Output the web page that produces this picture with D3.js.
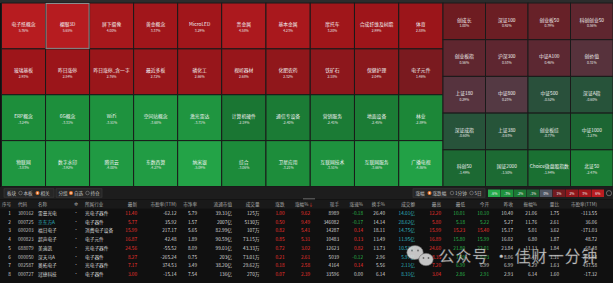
<!DOCTYPE html>
<html>
<head>
<meta charset="utf-8">
<script src="https://cdn.jsdelivr.net/npm/d3@7"></script>
<style>
html, body { margin: 0; padding: 0; background: #101010; overflow: hidden; }
svg { display: block; font-family: "Noto Sans CJK SC", "Noto Sans", sans-serif; }
</style>
</head>
<body>
<svg width="613" height="283"></svg>
<script>
// 概念板块
var conceptNames = ["电子纸概念", "裸眼3D", "屏下摄像", "黄金概念", "MicroLED",
  "玻璃基板", "昨日涨停", "昨日涨停_含一字", "最近多板", "磷化工",
  "ERP概念", "6G概念", "WiFi", "空间站概念", "激光雷达",
  "物联网", "数字水印", "腾讯云", "东数西算", "纳米银"];
var conceptPct = [5.76, 5.65, 4.00, 3.37, 3.29,
  2.93, 2.84, 2.76, 2.72, 2.66,
  -3.24, -3.31, -3.51, -3.68, -3.71,
  -3.83, -3.92, -4.00, -4.27, -5.09];

// 行业板块
var industryNames = ["贵金属", "基本金属", "摩托车", "合成纤维及树脂", "体育",
  "视听器材", "化肥农药", "铁矿石", "保健护理", "电子元件",
  "计算机硬件", "通信专设备", "营销服务", "地面设备", "林业",
  "综合", "卫星应用", "互联网技术", "互联网服务", "广播电视"];
var industryPct = [4.58, 4.23, 3.20, 2.99, 2.88,
  2.68, 2.32, 2.18, 2.04, 1.46,
  -2.19, -2.40, -2.41, -2.45, -2.89,
  -3.06, -3.21, -3.51, -3.66, -4.86];

// 指数
var indexNames = ["创成长", "深证100", "创业板50", "科创创业50",
  "创业板指", "沪深300", "中证A100", "创价值",
  "上证180", "中证800", "中证500", "深证A指",
  "深证成指", "上证380", "创业板综", "中证1000",
  "科创50", "国证2000", "Choice微盘股指数", "北证50"];
var indexPct = [1.00, 0.92, 0.79, 0.56,
  0.56, 0.53, 0.46, 0.31,
  0.29, 0.23, -0.52, -0.60,
  -0.60, -0.63, -0.77, -1.27,
  -1.49, -1.50, -1.94, -2.47];

var legendTicks = [-6, -3, -2, -1, 0, 1, 2, 3, 6];

// 个股表
var codes = ["300162", "000725", "600203", "000823", "688079", "000050", "002587", "000727"];
var stockNames = ["雷曼光电", "京东方A", "福日电子", "超声电子", "美迪凯", "深天马A", "奥拓电子", "冠捷科技"];
var industries = ["光电子器件", "电子器件", "消费电子设备", "电子元件", "光电子器件", "电子器件", "光电子器件", "电子器件"];
var latest = [11.40, 5.77, 15.99, 16.87, 24.56, 8.27, 7.17, 3.00];
var peTTM = [-62.12, 35.92, 217.17, 42.48, -55.52, -265.24, 374.53, -15.14];
var pb = [5.79, 1.57, 5.65, 1.89, 8.09, 0.75, 3.49, 7.54];
var floatCap = ["39.31亿", "2007亿", "82.99亿", "90.59亿", "99.01亿", "203亿", "38.20亿", "136亿"];
var volume = ["125万", "5130万", "107万", "73.15万", "43.33万", "73.01万", "29.62万", "270万"];
var change = [1.00, 0.50, 0.82, 0.85, 0.72, 0.21, 0.18, 0.07];
var changePct = [9.62, 9.49, 5.41, 5.31, 3.02, 2.61, 2.58, 2.39];
var lastVol = [8989, 346082, 14287, 10483, 12623, 5039, 4164, 33596];
var speed = [-0.18, -0.17, 0.14, 0.13, 0.82, -0.12, 0.14, 0.00];
var turnover = [26.40, 14.14, 18.11, 13.49, 13.73, 2.96, 5.56, 6.14];
var amount = ["14.01亿", "28.62亿", "14.75亿", "11.95亿", "10.53亿", "5.97亿", "2.11亿", "8.31亿"];
var high = [12.20, 5.80, 15.99, 16.89, 24.60, 8.35, 7.20, 3.04];
var low = [10.01, 5.18, 15.23, 15.80, 21.80, 7.99, 6.90, 2.86];
var open = [10.10, 5.22, 15.40, 15.99, 22.01, 8.03, 6.99, 2.91];
var prevClose = [10.40, 5.27, 15.17, 16.02, 23.84, 8.06, 6.99, 2.93];
var amplitude = [21.06, 11.76, 5.01, 6.80, 11.13, 4.47, 4.29, 6.14];
var volRatio = [1.75, 2.61, 3.62, 1.87, 1.84, 1.31, 1.63, 1.60];
var peTTM2 = [-113.55, 36.06, -171.03, 48.72, -68.48, -255.44, 437.58, -17.32];

var svg = d3.select("svg");
var width = +svg.attr("width");

var color = d3.scaleLinear()
    .domain([-6, -4, -3, -2, -1, -0.4, 0, 0.4, 1, 2, 3, 6])
    .range(["#25ab4b", "#209a43", "#1c8a39", "#1a7132", "#1d6233", "#2c4b3d", "#4b4f58",
            "#5a2934", "#6e1c21", "#89181c", "#9e151a", "#b91d21"])
    .clamp(true);

var RED = "#f2322f", GREEN = "#2bbb4d", WHITE = "#d6d6d6", TEAL = "#2fb8c0";

svg.append("rect").attr("width", width).attr("height", 283).attr("fill", "#101010");
svg.append("rect").attr("width", width).attr("height", 3).attr("fill", "#2c2c2c");

// ---- heat map blocks ----
function drawBlock(names, values, x0, x1, y0, y1, ncols, selected) {
  var nrows = Math.ceil(names.length / ncols);
  var x = d3.scaleBand().domain(d3.range(ncols)).range([x0, x1]);
  var y = d3.scaleBand().domain(d3.range(nrows)).range([y0, y1]);

  var cell = svg.append("g").selectAll("g")
    .data(names.map(function(n, i) { return {name: n, v: values[i], i: i}; }))
    .enter().append("g")
      .attr("transform", function(d) {
        return "translate(" + x(d.i % ncols) + "," + y(Math.floor(d.i / ncols)) + ")";
      });

  cell.append("rect")
      .attr("width", x.bandwidth())
      .attr("height", y.bandwidth())
      .attr("fill", function(d) { return color(d.v); })
      .attr("stroke", "#1a1a1a")
      .attr("stroke-width", 1);

  cell.append("text")
      .attr("x", x.bandwidth() / 2)
      .attr("y", y.bandwidth() / 2 - 2.2)
      .attr("text-anchor", "middle")
      .attr("dominant-baseline", "central")
      .attr("font-size", 4.8)
      .attr("fill", "#f2f2f2")
      .text(function(d) { return d.name; });

  cell.append("text")
      .attr("x", x.bandwidth() / 2)
      .attr("y", y.bandwidth() / 2 + 4.4)
      .attr("text-anchor", "middle")
      .attr("dominant-baseline", "central")
      .attr("font-size", 3.4)
      .attr("fill", "#e6e6e6")
      .text(function(d) { return d.v.toFixed(2) + "%"; });

  if (selected != null) {
    svg.append("rect")
        .attr("x", x(selected % ncols) + 0.5)
        .attr("y", y(Math.floor(selected / ncols)) + 0.5)
        .attr("width", x.bandwidth() - 1)
        .attr("height", y.bandwidth() - 1)
        .attr("fill", "none")
        .attr("stroke", "#8c8c8c")
        .attr("stroke-width", 1);
  }
}

drawBlock(conceptNames, conceptPct, 1.5, 221.7, 3, 186.5, 5, 1);
drawBlock(industryNames, industryPct, 221.7, 443, 3, 186.5, 5, null);
drawBlock(indexNames, indexPct, 443, 613, 3, 186.5, 4, null);

// ---- toolbar ----
svg.append("rect").attr("x", 0).attr("y", 187).attr("width", width).attr("height", 12).attr("fill", "#1d1d1d");

function radio(g, cx, cy, on) {
  if (on) {
    g.append("circle").attr("cx", cx).attr("cy", cy).attr("r", 2).attr("fill", "#e9772c");
    g.append("circle").attr("cx", cx).attr("cy", cy).attr("r", 0.8).attr("fill", "#fff");
  } else {
    g.append("circle").attr("cx", cx).attr("cy", cy).attr("r", 1.8)
        .attr("fill", "none").attr("stroke", "#9a9a9a").attr("stroke-width", 0.5);
  }
}

function toolGroup(x0, w, items) {
  var g = svg.append("g");
  g.append("rect").attr("x", x0).attr("y", 188.8).attr("width", w).attr("height", 8.4)
      .attr("fill", "#262626").attr("stroke", "#3d3d3d").attr("stroke-width", 0.6);
  items.forEach(function(it) {
    if (it.r != null) radio(g, it.x, 193, it.r);
    else g.append("text").attr("x", it.x).attr("y", 193).attr("dominant-baseline", "central")
        .attr("font-size", 4.6).attr("fill", "#c4c4c4").text(it.t);
  });
}

toolGroup(4, 50, [{x: 7, t: "板块"}, {r: false, x: 20.5}, {x: 23.5, t: "本板"}, {r: true, x: 37.5}, {x: 40.5, t: "相关"}]);
toolGroup(56, 46, [{x: 58.5, t: "分组"}, {r: true, x: 71}, {x: 74, t: "自选"}, {r: false, x: 87.5}, {x: 90.5, t: "持仓"}]);
toolGroup(413, 72, [{x: 415.5, t: "涨幅"}, {r: true, x: 429.5}, {x: 432.5, t: "涨跌幅"}, {r: false, x: 452}, {x: 455, t: "1分钟"}, {r: false, x: 471.5}, {x: 474.5, t: "5日"}]);

var lx = d3.scaleBand().domain(legendTicks).range([488, 604]).paddingInner(0.04);
var leg = svg.append("g").selectAll("g").data(legendTicks).enter().append("g");
leg.append("rect")
    .attr("x", function(d) { return lx(d); })
    .attr("y", 189.5)
    .attr("width", lx.bandwidth())
    .attr("height", 7.5)
    .attr("fill", function(d) { return d === 0 ? "#4f5663" : color(d * 1.15); });
leg.append("text")
    .attr("x", function(d) { return lx(d) + lx.bandwidth() / 2; })
    .attr("y", 193.3)
    .attr("text-anchor", "middle")
    .attr("dominant-baseline", "central")
    .attr("font-size", 3.4)
    .attr("fill", "#eee")
    .text(function(d) { return d + "%"; });

svg.append("circle").attr("cx", 609).attr("cy", 193.2).attr("r", 2.6)
    .attr("fill", "none").attr("stroke", "#8a8a8a").attr("stroke-width", 0.7);
svg.append("rect").attr("x", 303).attr("y", 198.2).attr("width", 12).attr("height", 1.4).attr("fill", "#5f5f5f");

// ---- table ----
svg.append("rect").attr("x", 0).attr("y", 199.6).attr("width", width).attr("height", 9).attr("fill", "#191919");

function sign(v) { return v > 0 ? RED : (v < 0 ? GREEN : WHITE); }
function vsPrev(arr) { return function(i) { return sign(arr[i] - prevClose[i]); }; }
function plain() { return WHITE; }

var columns = [
  {title: "序号", x: 9.5, anchor: "middle", hx: 2, ha: "start", get: function(i) { return i + 1; }, c: plain},
  {title: "代码", x: 18, anchor: "start", get: function(i) { return codes[i]; }, c: function() { return "#c2c2c2"; }},
  {title: "名称", x: 38, anchor: "start", get: function(i) { return stockNames[i]; }, c: function(i) { return i === 1 ? TEAL : WHITE; }},
  {title: "✲", x: 76, anchor: "middle", get: function() { return "▪"; }, c: function() { return "#b0b0b0"; }},
  {title: "所属行业", x: 85, anchor: "start", get: function(i) { return industries[i]; }, c: plain},
  {title: "最新", x: 137, anchor: "end", get: function(i) { return latest[i].toFixed(2); }, c: vsPrev(latest)},
  {title: "市盈率(TTM)", x: 176.5, anchor: "end", get: function(i) { return peTTM[i].toFixed(2); }, c: plain},
  {title: "市净率", x: 197, anchor: "end", get: function(i) { return pb[i].toFixed(2); }, c: plain},
  {title: "流通市值", x: 232, anchor: "end", get: function(i) { return floatCap[i]; }, c: plain},
  {title: "成交量", x: 259.5, anchor: "end", get: function(i) { return volume[i]; }, c: plain},
  {title: "涨跌", x: 284.5, anchor: "end", get: function(i) { return change[i].toFixed(2); }, c: function(i) { return sign(change[i]); }},
  {title: "涨幅%", x: 310, anchor: "end", get: function(i) { return changePct[i].toFixed(2); }, c: function(i) { return sign(changePct[i]); }},
  {title: "现手", x: 339, anchor: "end", get: function(i) { return lastVol[i]; }, c: plain},
  {title: "涨速%", x: 363, anchor: "end", get: function(i) { return speed[i].toFixed(2); }, c: function(i) { return sign(speed[i]); }},
  {title: "换手%", x: 385, anchor: "end", get: function(i) { return turnover[i].toFixed(2); }, c: plain},
  {title: "成交额", x: 415, anchor: "end", get: function(i) { return amount[i]; }, c: function() { return TEAL; }},
  {title: "最高", x: 441, anchor: "end", get: function(i) { return high[i].toFixed(2); }, c: vsPrev(high)},
  {title: "最低", x: 465, anchor: "end", get: function(i) { return low[i].toFixed(2); }, c: vsPrev(low)},
  {title: "今开", x: 489, anchor: "end", get: function(i) { return open[i].toFixed(2); }, c: vsPrev(open)},
  {title: "昨收", x: 513, anchor: "end", get: function(i) { return prevClose[i].toFixed(2); }, c: plain},
  {title: "振幅%", x: 537, anchor: "end", get: function(i) { return amplitude[i].toFixed(2); }, c: plain},
  {title: "量比", x: 559, anchor: "end", get: function(i) { return volRatio[i].toFixed(2); }, c: plain},
  {title: "市盈率(TTM)", x: 597, anchor: "end", get: function(i) { return peTTM2[i].toFixed(2); }, c: plain}
];

var head = svg.append("g").selectAll("text").data(columns).enter().append("text")
    .attr("x", function(d) { return d.hx != null ? d.hx : d.x; })
    .attr("y", 204.2)
    .attr("text-anchor", function(d) { return d.ha || d.anchor; })
    .attr("dominant-baseline", "central")
    .attr("font-size", 4.6)
    .attr("fill", "#a9a9a9")
    .text(function(d) { return d.title; });
head.filter(function(d) { return d.title === "涨幅%"; })
    .attr("x", function(d) { return d.x + 3; })
    .append("tspan").attr("fill", "#e8402f").text("↓");

var rowY = d3.scaleBand().domain(d3.range(codes.length)).range([208.4, 278.4]);
var rows = svg.append("g").selectAll("g").data(d3.range(codes.length)).enter().append("g")
    .attr("transform", function(i) { return "translate(0," + (rowY(i) + rowY.bandwidth() / 2) + ")"; });

columns.forEach(function(col) {
  rows.append("text")
      .attr("x", col.x)
      .attr("text-anchor", col.anchor)
      .attr("dominant-baseline", "central")
      .attr("font-size", col.title === "✲" ? 3 : 4.7)
      .attr("fill", function(i) { return col.c(i); })
      .text(function(i) { return col.get(i); });
});

// ---- watermark ----
var wm = svg.append("g").attr("opacity", 0.85);
wm.append("ellipse").attr("cx", 415).attr("cy", 252.5).attr("rx", 8.2).attr("ry", 7)
    .attr("fill", "#e4e4e4").attr("stroke", "#777").attr("stroke-width", 0.6);
wm.append("ellipse").attr("cx", 426).attr("cy", 259.5).attr("rx", 7.2).attr("ry", 6.2)
    .attr("fill", "#e4e4e4").attr("stroke", "#777").attr("stroke-width", 0.6);
[[412, 250.5], [418, 250.5], [423.5, 258], [428.5, 258]].forEach(function(p) {
  wm.append("circle").attr("cx", p[0]).attr("cy", p[1]).attr("r", 0.9).attr("fill", "#777");
});
wm.append("text")
    .attr("x", 439)
    .attr("y", 255)
    .attr("dominant-baseline", "central")
    .attr("font-size", 15.5)
    .attr("textLength", 158)
    .attr("fill", "#e8e8e8")
    .attr("stroke", "#555")
    .attr("stroke-width", 0.3)
    .text("公众号 · 佳财一分钟");
</script>
</body>
</html>
